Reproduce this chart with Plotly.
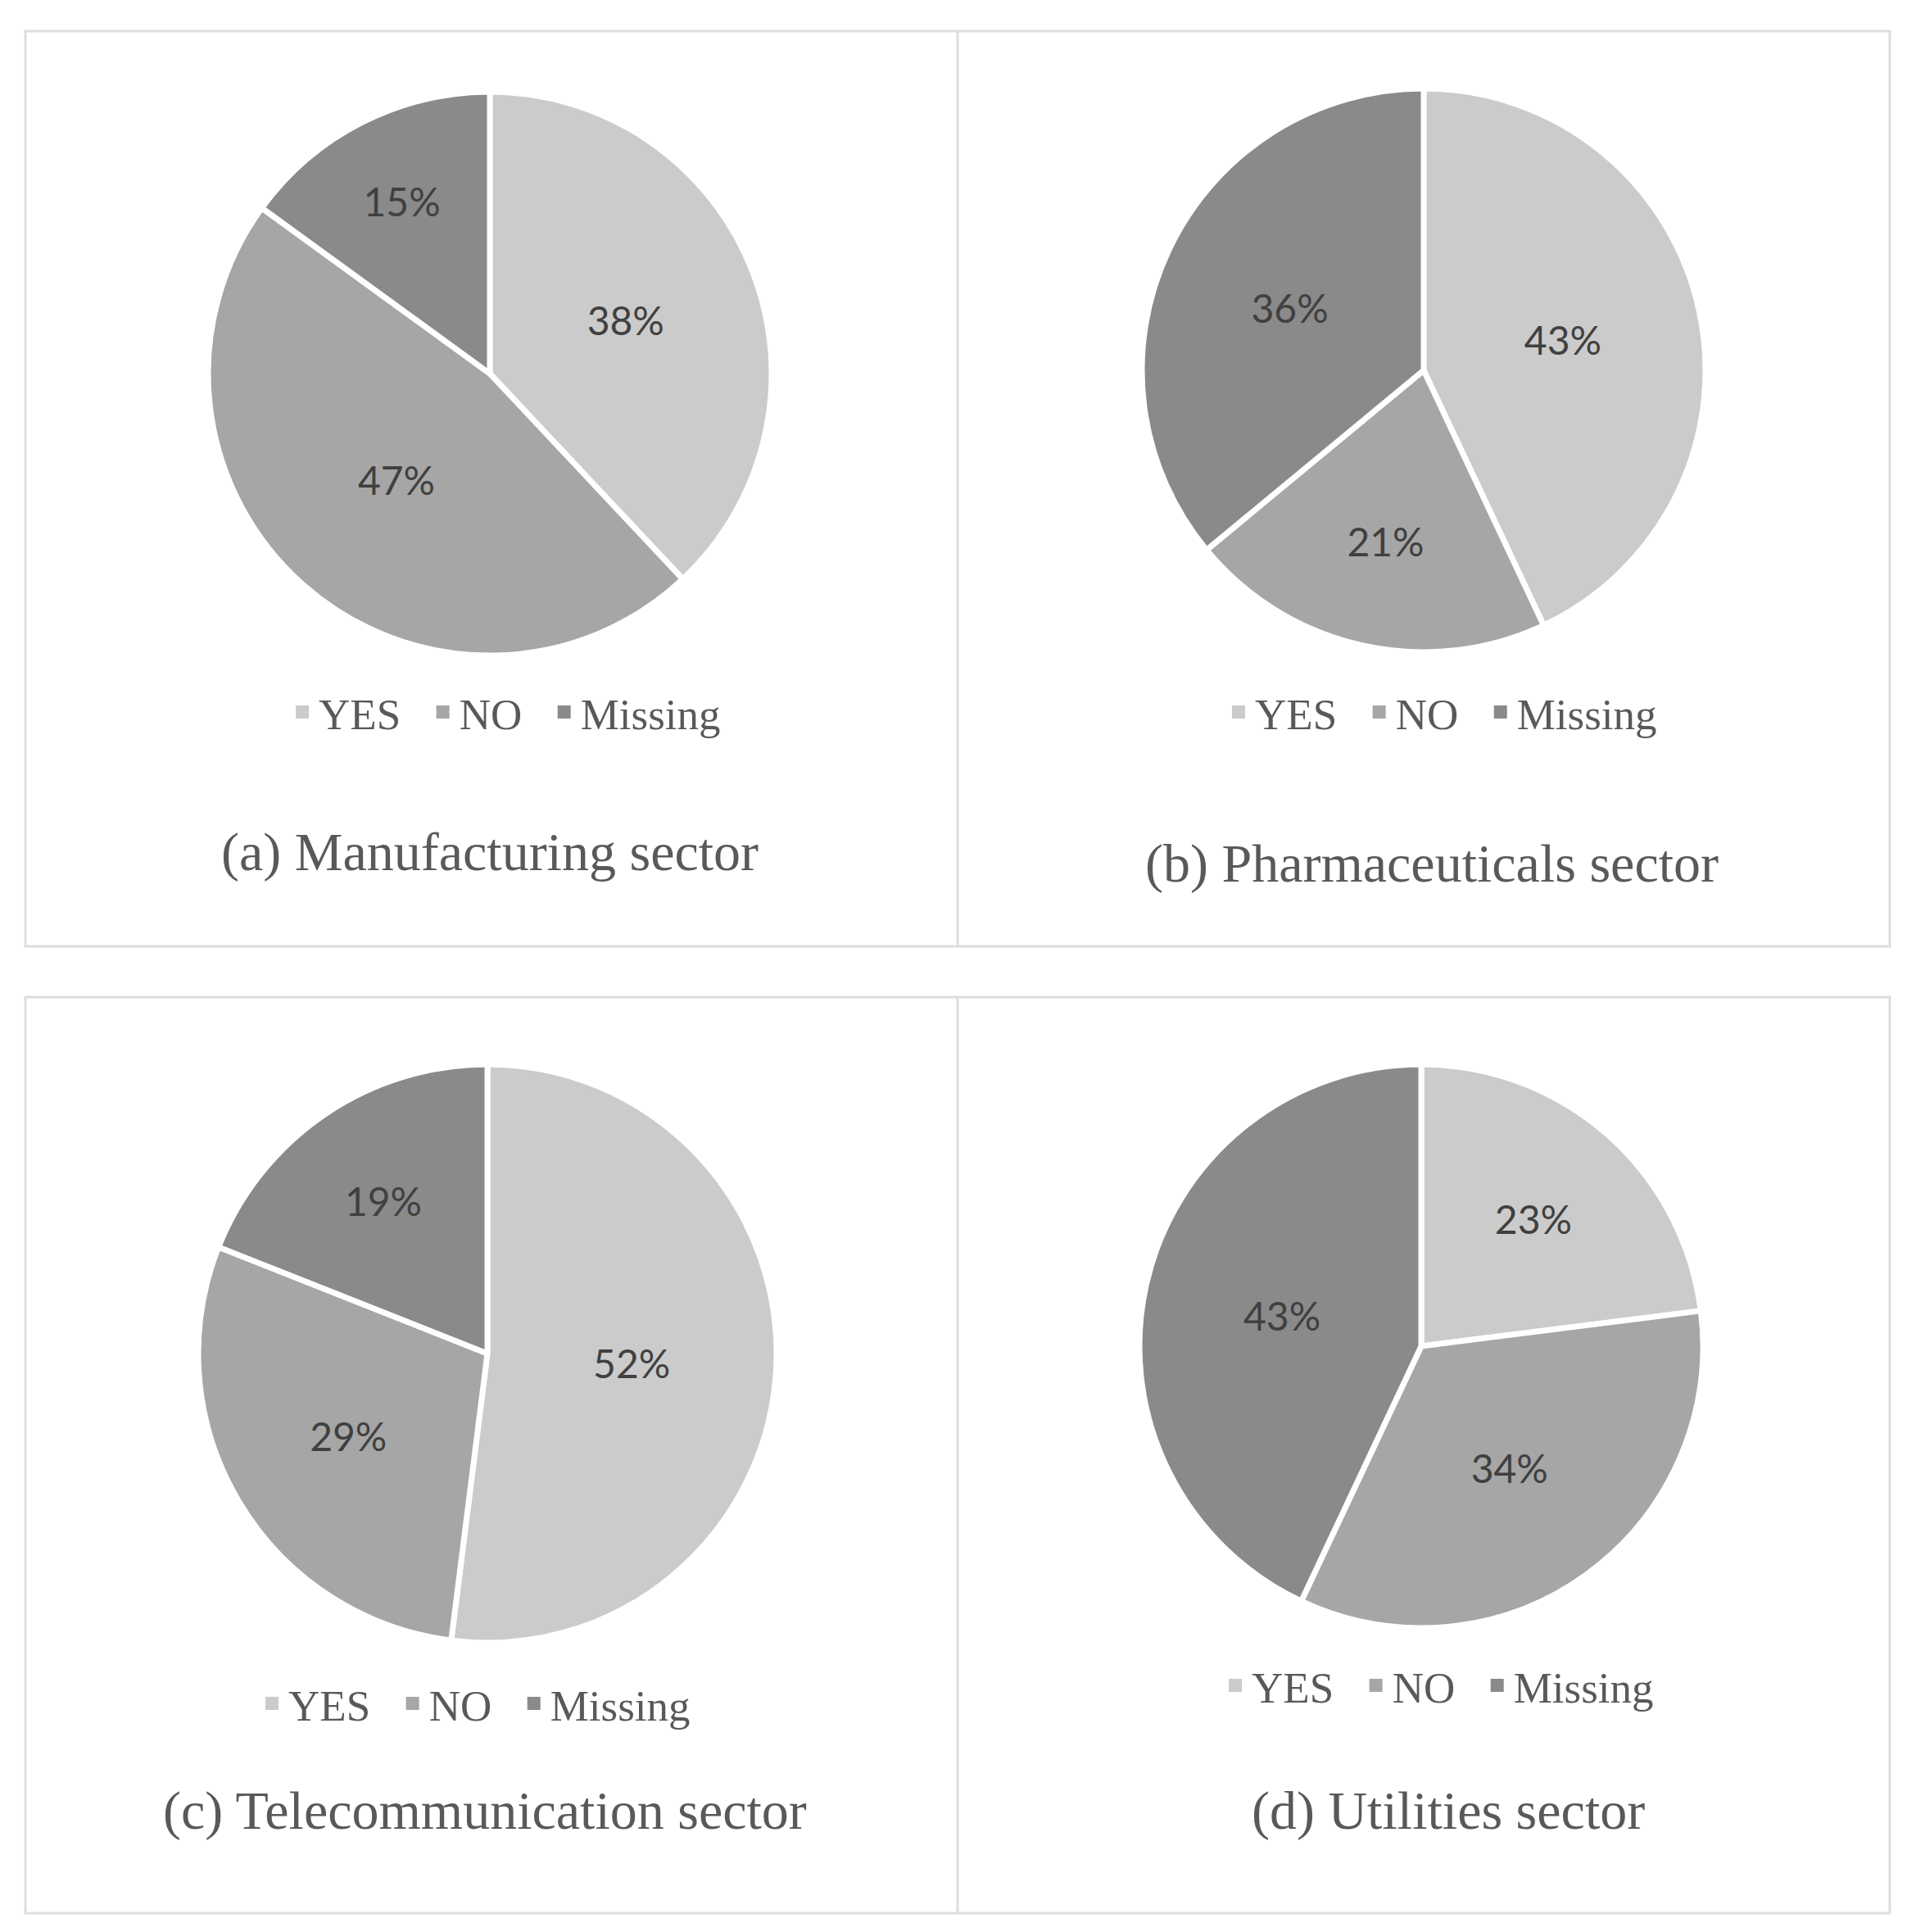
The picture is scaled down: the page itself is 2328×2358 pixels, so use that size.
import plotly.graph_objects as go

# данные
categories = ["YES", "NO", "Missing"]
manufacturing = [38, 47, 15]
pharmaceuticals = [43, 21, 36]
telecommunication = [52, 29, 19]
utilities = [23, 34, 43]
titles = ["(a) Manufacturing sector", "(b) Pharmaceuticals sector",
          "(c) Telecommunication sector", "(d) Utilities sector"]

W, H = 2328, 2358
colors = ["#cbcbcb", "#a6a6a6", "#8a8a8a"]
text_gray = "#595959"

# центр и радиус каждого круга в пикселях, позиции легенд и подписей
pies = [
    dict(vals=manufacturing, c=(590, 448), r=344, leg=(609, 861), title=(590, 1032)),
    dict(vals=pharmaceuticals, c=(1730, 444), r=344, leg=(1752, 861), title=(1740, 1046)),
    dict(vals=telecommunication, c=(587, 1644), r=353, leg=(572, 2071), title=(584, 2202)),
    dict(vals=utilities, c=(1727, 1635), r=344, leg=(1748, 2049), title=(1760, 2202)),
]

fig = go.Figure()
layout_legends = {}

for i, p in enumerate(pies):
    cx, cy = p["c"]
    r = p["r"]
    leg_name = "legend" if i == 0 else f"legend{i + 1}"
    fig.add_trace(go.Pie(
        labels=categories,
        values=p["vals"],
        sort=False,
        direction="clockwise",
        rotation=0,
        marker=dict(colors=colors, line=dict(color="white", width=7)),
        texttemplate="%{value}%",
        textposition="inside",
        insidetextorientation="horizontal",
        textfont=dict(family="Lato", size=48, color="#404040"),
        hoverinfo="label+value",
        domain=dict(x=[(cx - r) / W, (cx + r) / W],
                    y=[1 - (cy + r) / H, 1 - (cy - r) / H]),
        showlegend=False,
    ))
    # легенда: отдельные маркеры-квадраты
    for j, (cat, col) in enumerate(zip(categories, colors)):
        pad = "\u00a0\u00a0" if j < len(categories) - 1 else ""
        fig.add_trace(go.Scatter(
            x=[None], y=[None], mode="markers", name=cat + pad,
            marker=dict(symbol="square", size=16, color=col),
            legend=leg_name, hoverinfo="skip",
        ))
    lx, ly = p["leg"]
    layout_legends[leg_name] = dict(
        orientation="h",
        x=lx / W, y=1 - ly / H,
        xanchor="center", yanchor="middle",
        font=dict(family="Liberation Serif", size=53, color=text_gray),
        bgcolor="rgba(0,0,0,0)",
    )
    tx, ty = p["title"]
    fig.add_annotation(
        text=titles[i], x=tx / W, y=1 - ty / H,
        xref="paper", yref="paper", showarrow=False,
        xanchor="center", yanchor="middle",
        font=dict(family="Liberation Serif", size=66, color=text_gray),
    )

# рамки панелей
border = dict(color="#dedede", width=3)
for y0, y1 in [(30, 1147), (1209, 2327)]:
    fig.add_shape(type="rect", xref="paper", yref="paper",
                  x0=23 / W, x1=2299 / W, y0=1 - y1 / H, y1=1 - y0 / H,
                  line=border)
    fig.add_shape(type="line", xref="paper", yref="paper",
                  x0=1161 / W, x1=1161 / W, y0=1 - y1 / H, y1=1 - y0 / H,
                  line=border)

fig.update_layout(
    width=W, height=H,
    margin=dict(l=0, r=0, t=0, b=0),
    paper_bgcolor="white",
    plot_bgcolor="white",
    xaxis=dict(visible=False),
    yaxis=dict(visible=False),
    showlegend=True,
    **layout_legends,
)

fig.write_html("out.html")
